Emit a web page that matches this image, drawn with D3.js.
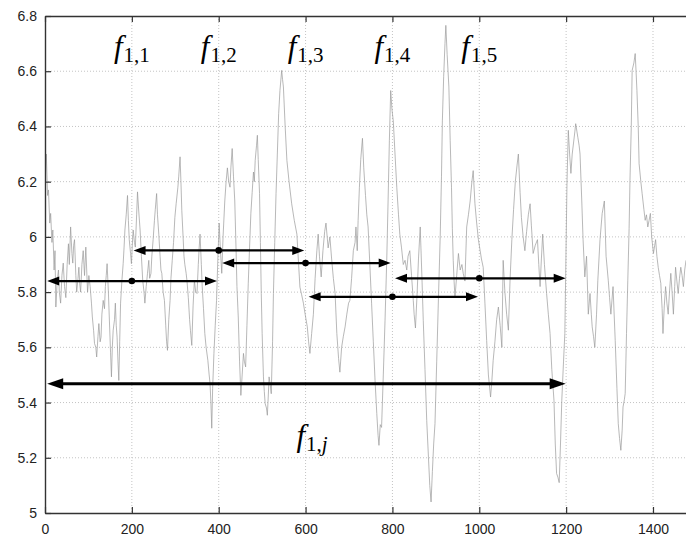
<!DOCTYPE html>
<html>
<head>
<meta charset="utf-8">
<script src="https://cdn.jsdelivr.net/npm/d3@7"></script>
<style>
    body { margin: 0; background: #fff; }
    svg { display: block; }
</style>
</head>
<body>
<div id="chart"></div>
<script>
var xTicks = [0, 200, 400, 600, 800, 1000, 1200, 1400];
var yTicks = [5, 5.2, 5.4, 5.6, 5.8, 6, 6.2, 6.4, 6.6, 6.8];

// signal: [t, value]
var signal = [
    [1,6.22],[3,6.30],[6,6.15],[8,6.17],[11,6.05],[13,6.085],[16,5.98],[18,6.025],[21,5.88],[23,5.95],
    [25,5.746],[28,5.84],[31,5.88],[33,5.80],[36,5.76],[39,5.86],[42,5.905],[45,5.82],[48,5.78],[51,5.90],
    [54,5.975],[56,5.90],[59,6.036],[62,5.94],[64,5.905],[66,5.97],[68,5.99],[71,5.86],[73,5.80],[76,5.85],
    [78,5.89],[80,5.83],[82,5.80],[85,5.90],[88,5.95],[91,5.86],[94,5.963],[96,5.88],[98,5.80],[101,5.86],
    [104,5.82],[107,5.76],[109,5.71],[112,5.66],[114,5.614],[117,5.60],[119,5.565],[122,5.64],[124,5.686],[127,5.62],
    [129,5.637],[131,5.72],[134,5.77],[137,5.74],[139,5.82],[141,5.86],[143,5.903],[146,5.80],[148,5.71],[151,5.58],
    [153,5.493],[155,5.60],[157,5.662],[160,5.70],[162,5.76],[164,5.68],[166,5.637],[168,5.55],[170,5.48],[172,5.62],
    [174,5.76],[177,5.84],[180,5.903],[182,5.96],[184,6.025],[187,6.08],[190,6.15],[192,6.06],[194,5.99],[197,5.94],
    [199,5.903],[201,5.97],[203,6.025],[206,5.98],[208,5.963],[211,6.08],[213,6.163],[216,6.09],[219,6.025],[222,5.93],
    [225,5.843],[228,5.80],[230,5.76],[233,5.82],[236,5.868],[239,5.915],[241,5.85],[244,5.868],[246,5.93],[249,5.99],
    [252,6.06],[254,6.10],[257,6.157],[259,6.08],[262,6.01],[265,5.93],[267,5.88],[269,5.868],[272,5.80],[275,5.77],
    [278,5.68],[280,5.62],[282,5.589],[285,5.70],[288,5.77],[290,5.85],[293,5.915],[296,5.98],[299,6.07],[302,6.12],
    [306,6.18],[308,6.22],[311,6.29],[313,6.20],[315,6.096],[318,6.00],[320,5.93],[322,5.90],[325,5.868],[327,5.84],
    [330,5.78],[333,5.70],[335,5.66],[338,5.607],[341,5.75],[344,5.843],[347,5.80],[350,5.795],[353,5.90],[355,5.96],
    [357,6.01],[360,5.90],[362,5.82],[365,5.74],[368,5.65],[371,5.60],[375,5.553],[378,5.50],[380,5.47],[382,5.40],
    [384,5.307],[386,5.45],[389,5.578],[392,5.68],[395,5.77],[398,5.92],[401,6.05],[404,5.95],[407,5.868],[410,6.00],
    [414,6.13],[417,6.20],[420,6.25],[423,6.20],[426,6.18],[428,6.25],[431,6.32],[434,6.22],[437,6.13],[440,5.95],
    [442,5.82],[445,5.71],[448,5.55],[451,5.426],[454,5.50],[457,5.578],[459,5.55],[462,5.529],[465,5.68],[468,5.83],
    [471,5.96],[474,6.084],[477,6.16],[480,6.235],[482,6.20],[484,6.277],[487,6.33],[489,6.368],[491,6.28],[494,6.157],
    [496,5.98],[498,5.795],[500,5.65],[503,5.493],[505,5.44],[507,5.396],[510,5.38],[512,5.354],[514,5.42],[516,5.493],
    [519,5.46],[521,5.432],[524,5.62],[526,5.795],[529,5.98],[532,6.157],[535,6.30],[538,6.446],[541,6.53],[545,6.603],
    [547,6.57],[549,6.543],[553,6.40],[557,6.277],[562,6.20],[568,6.12],[574,6.06],[580,6.01],[584,5.90],[587,5.818],
    [591,5.79],[595,5.76],[599,5.72],[604,5.674],[607,5.62],[610,5.578],[614,5.65],[618,5.72],[622,5.85],[626,5.95],
    [629,6.01],[632,5.93],[636,5.855],[640,5.95],[644,6.02],[647,6.05],[652,5.96],[656,6.0],[660,5.92],[664,5.85],
    [668,5.795],[672,5.65],[676,5.56],[679,5.51],[683,5.60],[687,5.64],[691,5.674],[695,5.72],[699,5.76],[702,5.77],
    [706,5.85],[710,5.95],[714,5.98],[716,6.036],[719,5.95],[721,6.06],[724,6.18],[727,6.28],[731,6.357],[734,6.25],
    [738,6.15],[741,6.08],[744,6.036],[748,5.90],[752,5.76],[756,5.62],[760,5.48],[764,5.36],[767,5.28],[769,5.245],
    [772,5.32],[775,5.31],[779,5.50],[783,5.698],[787,5.92],[790,6.13],[793,6.35],[796,6.53],[799,6.46],[802,6.42],
    [806,6.30],[810,6.18],[814,6.08],[817,6.01],[821,5.96],[825,5.90],[829,5.915],[833,5.88],[836,5.93],[840,5.95],
    [844,5.86],[848,5.77],[850,5.72],[853,5.67],[857,5.80],[860,5.92],[864,6.036],[868,5.85],[871,5.698],[875,5.52],
    [879,5.335],[883,5.20],[886,5.10],[889,5.04],[892,5.15],[895,5.25],[898,5.324],[902,5.55],[906,5.78],[910,6.0],
    [913,6.22],[915,6.42],[918,6.58],[921,6.70],[923,6.766],[926,6.66],[930,6.543],[933,6.35],[936,6.18],[938,6.03],
    [940,5.915],[942,5.84],[944,5.78],[948,5.86],[952,5.94],[956,5.88],[960,5.90],[963,5.868],[967,5.84],[971,6.036],
    [975,6.08],[979,6.13],[983,6.20],[986,6.24],[990,6.12],[994,6.05],[998,5.99],[1002,5.95],[1005,5.92],[1009,5.89],
    [1013,5.76],[1017,5.625],[1021,5.50],[1026,5.42],[1029,5.48],[1032,5.553],[1036,5.62],[1040,5.70],[1044,5.746],[1048,5.68],
    [1052,5.60],[1055,5.915],[1059,5.80],[1063,5.72],[1067,5.662],[1071,5.85],[1075,5.99],[1079,6.10],[1083,6.20],[1087,6.26],
    [1090,6.30],[1094,6.16],[1097,6.07],[1101,6.00],[1105,5.95],[1109,6.02],[1113,6.08],[1117,6.12],[1120,6.04],[1124,5.94],
    [1129,5.97],[1134,5.99],[1137,5.90],[1140,5.82],[1143,5.92],[1146,6.01],[1150,5.90],[1155,5.795],[1159,5.72],[1163,5.65],
    [1167,5.52],[1172,5.408],[1175,5.25],[1178,5.143],[1181,5.13],[1184,5.11],[1187,5.25],[1190,5.408],[1194,5.55],[1197,5.65],
    [1199,5.868],[1202,6.20],[1205,6.386],[1208,6.30],[1211,6.23],[1214,6.30],[1217,6.34],[1220,6.38],[1222,6.41],[1225,6.38],
    [1227,6.36],[1230,6.33],[1232,6.30],[1236,6.13],[1239,5.99],[1243,5.855],[1247,5.93],[1251,5.72],[1255,5.795],[1258,5.72],
    [1260,5.674],[1263,5.64],[1266,5.6],[1270,5.72],[1273,5.843],[1278,5.99],[1283,6.085],[1288,6.13],[1292,5.93],[1297,5.843],
    [1300,5.78],[1303,5.72],[1308,5.82],[1313,5.625],[1317,5.45],[1320,5.324],[1323,5.27],[1326,5.227],[1329,5.30],[1331,5.384],
    [1334,5.41],[1336,5.433],[1339,5.65],[1342,5.843],[1345,6.03],[1347,6.205],[1350,6.40],[1352,6.603],[1356,6.63],[1359,6.664],
    [1361,6.60],[1363,6.53],[1366,6.40],[1368,6.265],[1372,6.20],[1375,6.157],[1379,6.10],[1382,6.06],[1385,6.08],[1388,6.036],
    [1391,6.06],[1394,6.085],[1397,6.00],[1401,5.94],[1404,5.97],[1406,5.99],[1409,5.93],[1412,5.89],[1415,5.86],[1418,5.832],
    [1421,5.74],[1423,5.65],[1426,5.75],[1429,5.82],[1432,5.76],[1435,5.72],[1438,5.80],[1441,5.868],[1444,5.80],[1447,5.72],
    [1450,5.82],[1452,5.89],[1455,5.84],[1458,5.795],[1461,5.85],[1464,5.89],[1467,5.86],[1470,5.82],[1473,5.88],[1476,5.915]
];

// the six window arrows
var spanStart = [5, 204, 408, 607, 806, 5];
var spanEnd = [396, 597, 796, 997, 1199, 1199];
var spanLevel = [5.84, 5.951, 5.905, 5.783, 5.85, 5.468];
var spanCentre = [200, 400, 600, 800, 1000, null];

var labelSub = ["1,1", "1,2", "1,3", "1,4", "1,5"];
var labelAt = [200, 400, 600, 800, 1000];

draw_chart();

function draw_chart() {
    var chart_width = 686, chart_height = 539;
    var margin = { top: 16, right: 0, bottom: 26, left: 45 };

    var x = d3.scaleLinear().domain([0, 1476]).range([margin.left, chart_width - margin.right]);
    var y = d3.scaleLinear().domain([5, 6.8]).range([chart_height - margin.bottom, margin.top]);

    var svg = d3.select("#chart")
        .append("svg")
        .attr("width", chart_width)
        .attr("height", chart_height);

    svg.append("clipPath").attr("id", "plot")
        .append("rect")
        .attr("x", margin.left).attr("y", margin.top)
        .attr("width", chart_width - margin.left - margin.right)
        .attr("height", chart_height - margin.top - margin.bottom);

    // dotted grid
    var grid = svg.append("g").attr("stroke", "#c4c4c4").attr("stroke-width", 1).attr("stroke-dasharray", "1,2");
    grid.selectAll(".gx").data(xTicks.slice(1)).enter().append("line")
        .attr("x1", d => x(d)).attr("x2", d => x(d))
        .attr("y1", y(6.8)).attr("y2", y(5));
    grid.selectAll(".gy").data(yTicks.slice(1, -1)).enter().append("line")
        .attr("x1", x(0)).attr("x2", chart_width)
        .attr("y1", d => y(d)).attr("y2", d => y(d));

    // signal
    var line = d3.line().x(d => x(d[0])).y(d => y(d[1]));
    svg.append("path")
        .datum(signal)
        .attr("clip-path", "url(#plot)")
        .attr("fill", "none")
        .attr("stroke", "#9a9a9a")
        .attr("stroke-width", 0.7)
        .attr("d", line);

    // arrows
    var arrows = svg.append("g");
    spanStart.forEach(function (s, i) {
        var big = spanCentre[i] === null;
        var hl = big ? 16 : 12, hw = big ? 5.5 : 4.5, lw = big ? 3 : 2.2;
        var x0 = x(s), x1 = x(spanEnd[i]), yy = y(spanLevel[i]);
        arrows.append("line")
            .attr("x1", x0 + hl - 1).attr("x2", x1 - hl + 1)
            .attr("y1", yy).attr("y2", yy)
            .attr("stroke", "#000").attr("stroke-width", lw);
        arrows.append("path")
            .attr("d", "M" + x0 + "," + yy + "L" + (x0 + hl) + "," + (yy - hw) + "L" + (x0 + hl) + "," + (yy + hw) + "Z")
            .attr("fill", "#000");
        arrows.append("path")
            .attr("d", "M" + x1 + "," + yy + "L" + (x1 - hl) + "," + (yy - hw) + "L" + (x1 - hl) + "," + (yy + hw) + "Z")
            .attr("fill", "#000");
        if (!big) {
            arrows.append("circle")
                .attr("cx", x(spanCentre[i])).attr("cy", yy).attr("r", 3.3)
                .attr("fill", "#000");
        }
    });

    // axes, ticks pointing inward
    var fmtY = d => String(+d.toFixed(1));
    var axisStyle = function (g) {
        g.selectAll("path.domain").attr("stroke", "#333").attr("stroke-width", 1.4);
        g.selectAll(".tick line").attr("stroke", "#333").attr("stroke-width", 1.2);
        g.selectAll(".tick text").attr("fill", "#222")
            .style("font-family", "'Liberation Sans', Arial, sans-serif").style("font-size", "14px");
    };

    svg.append("g")
        .attr("transform", "translate(" + margin.left + ",0)")
        .call(d3.axisLeft(y).tickValues(yTicks).tickFormat(fmtY).tickSizeInner(-6).tickSizeOuter(0).tickPadding(8))
        .call(axisStyle);

    svg.append("g")
        .attr("transform", "translate(0," + y(5) + ")")
        .call(d3.axisBottom(x).tickValues(xTicks).tickFormat(d3.format("d")).tickSizeInner(-6).tickSizeOuter(0).tickPadding(11.5))
        .call(axisStyle);

    svg.append("g")
        .attr("transform", "translate(0," + y(6.8) + ")")
        .call(d3.axisTop(x).tickValues(xTicks).tickFormat("").tickSizeInner(-6).tickSizeOuter(0))
        .call(axisStyle);

    // math labels
    var mathFont = "'Liberation Serif', 'Times New Roman', serif";
    labelAt.forEach(function (t, i) {
        var txt = svg.append("text")
            .attr("x", x(t)).attr("y", y(6.65))
            .attr("text-anchor", "middle")
            .style("font-family", mathFont);
        txt.append("tspan").style("font-style", "italic").style("font-size", "31px").text("f");
        txt.append("tspan").attr("dx", 1).attr("dy", 5).style("font-size", "21px").text(labelSub[i]);
    });

    var big = svg.append("text")
        .attr("x", x(615)).attr("y", y(5.243))
        .attr("text-anchor", "middle")
        .style("font-family", mathFont);
    big.append("tspan").style("font-style", "italic").style("font-size", "31px").text("f");
    big.append("tspan").attr("dx", 1).attr("dy", 5).style("font-size", "21px").text("1,");
    big.append("tspan").style("font-style", "italic").style("font-size", "21px").text("j");
}
</script>
</body>
</html>
